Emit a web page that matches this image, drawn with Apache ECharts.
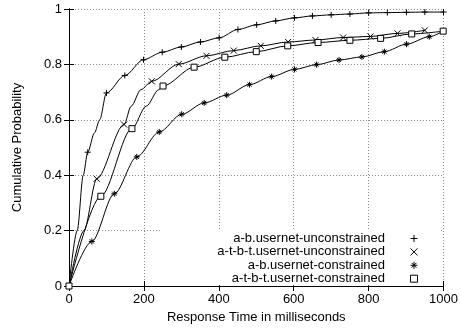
<!DOCTYPE html>
<html>
<head>
<meta charset="utf-8">
<script src="https://cdn.jsdelivr.net/npm/echarts@6/dist/echarts.min.js"></script>
<style>
  html, body { margin: 0; padding: 0; background: #fff; }
  #chart { width: 461px; height: 329px; }
</style>
</head>
<body>
<div id="chart"></div>
<script>
// series names, as in the key
var seriesNames = [
  'a-b.usernet-unconstrained',
  'a-t-b-t.usernet-unconstrained',
  'a-b.usernet-constrained',
  'a-t-b-t.usernet-constrained'
]

// marked points [ms, probability]
var abUnconMarks = [[0, 0], [50, 0.483], [100, 0.697], [149, 0.76], [199, 0.817], [249, 0.844], [300, 0.863],
  [351, 0.881], [401, 0.896], [451, 0.926], [501, 0.943], [552, 0.957], [602, 0.968], [650, 0.975],
  [700, 0.979], [750, 0.982], [800, 0.986], [850, 0.987], [901, 0.988], [950, 0.989], [1000, 0.989]]
var atbtUnconMarks = [[0, 0], [74, 0.387], [147, 0.583], [221, 0.739], [293, 0.801], [367, 0.831], [440, 0.85],
  [512, 0.867], [585, 0.881], [658, 0.888], [732, 0.897], [805, 0.901], [877, 0.912], [950, 0.923]]
var abConMarks = [[0, 0], [61, 0.161], [121, 0.333], [181, 0.466], [241, 0.556], [301, 0.62], [361, 0.661],
  [421, 0.689], [482, 0.727], [541, 0.756], [602, 0.782], [661, 0.799], [721, 0.816], [782, 0.827],
  [842, 0.846], [901, 0.873], [962, 0.9]]
var atbtConMarks = [[0, 0], [85, 0.324], [168, 0.568], [251, 0.722], [334, 0.79], [416, 0.826], [500, 0.846],
  [584, 0.867], [665, 0.879], [750, 0.887], [832, 0.894], [915, 0.91], [999, 0.92]]

// extra points of the curves between the marks
var abUnconKnots = [[22, 0.2], [38, 0.4], [68, 0.553], [82, 0.6]]
var atbtUnconKnots = [[40, 0.2], [166, 0.649], [192, 0.709]]
var abConKnots = [[1000, 0.921]]
var atbtConKnots = [[206, 0.649], [240, 0.709]]

var xTicks = [0, 200, 400, 600, 800, 1000]
var yTicks = [0, 0.2, 0.4, 0.6, 0.8, 1]

var symbols = [
  'path://M0,5L10,5M5,0L5,10',
  'path://M0,0L10,10M10,0L0,10',
  'path://M0,5L10,5M5,0L5,10M1.6,1.6L8.4,8.4M8.4,1.6L1.6,8.4',
  'path://M0,0L10,0L10,10L0,10Z'
]

function buildData(marks, knots) {
  var pts = marks.map(function (p) { return { value: p } })
    .concat(knots.map(function (p) { return { value: p, symbol: 'none' } }))
  pts.sort(function (a, b) { return a.value[0] - b.value[0] })
  return pts
}

var allData = [
  buildData(abUnconMarks, abUnconKnots),
  buildData(atbtUnconMarks, atbtUnconKnots),
  buildData(abConMarks, abConKnots),
  buildData(atbtConMarks, atbtConKnots)
]

var font = 'Liberation Sans, Arial, Helvetica, sans-serif'
var markStyle = { color: '#fff', borderColor: '#000', borderWidth: 1 }

var chart = echarts.init(document.getElementById('chart'))

var xBase = {
  type: 'value', min: 0, max: 1000, interval: 200,
  axisLine: { lineStyle: { color: '#000', width: 1 } },
  axisTick: { inside: true, length: 5, lineStyle: { color: '#000' } }
}
var yBase = {
  type: 'value', min: 0, max: 1, interval: 0.2,
  axisLine: { lineStyle: { color: '#000', width: 1 } },
  axisTick: { inside: true, length: 5, lineStyle: { color: '#000' } }
}

chart.setOption({
  animation: false,
  backgroundColor: '#fff',
  textStyle: { fontFamily: font },
  grid: { left: 69, right: 15, top: 9, bottom: 42 },
  legend: {
    orient: 'vertical',
    align: 'right',
    right: 21,
    top: 229,
    padding: [3, 22, 0, 56],
    backgroundColor: '#fff',
    itemWidth: 48,
    itemHeight: 7,
    itemGap: 0.4,
    selectedMode: false,
    textStyle: { fontFamily: font, fontSize: 13, lineHeight: 12, color: '#000' },
    itemStyle: markStyle,
    data: seriesNames.map(function (n, i) { return { name: n, icon: symbols[i] } })
  },
  xAxis: [
    Object.assign({}, xBase, {
      position: 'bottom',
      name: 'Response Time in milliseconds',
      nameLocation: 'middle',
      nameGap: 25,
      nameTextStyle: { fontFamily: font, fontSize: 13, color: '#000' },
      axisLabel: {
        margin: 7, color: '#000', fontSize: 13, fontFamily: font,
        formatter: function (v) { return xTicks.indexOf(v) >= 0 ? String(v) : '' }
      },
      splitLine: { show: true, lineStyle: { color: '#8c8c8c', type: [1, 2], width: 1 } }
    }),
    Object.assign({}, xBase, {
      position: 'top',
      axisLabel: { show: false },
      splitLine: { show: false }
    })
  ],
  yAxis: [
    Object.assign({}, yBase, {
      position: 'left',
      name: 'Cumulative Probability',
      nameLocation: 'middle',
      nameGap: 45,
      nameTextStyle: { fontFamily: font, fontSize: 13, color: '#000' },
      axisLabel: {
        margin: 7, color: '#000', fontSize: 13, fontFamily: font,
        formatter: function (v) {
          var r = Math.round(v * 10) / 10
          return yTicks.indexOf(r) >= 0 ? String(r) : ''
        }
      },
      splitLine: { show: true, lineStyle: { color: '#8c8c8c', type: [1, 2], width: 1 } }
    }),
    Object.assign({}, yBase, {
      position: 'right',
      axisLabel: { show: false },
      splitLine: { show: false }
    })
  ],
  series: seriesNames.map(function (n, i) {
    return {
      name: n,
      type: 'line',
      data: allData[i],
      smooth: 0.3,
      smoothMonotone: 'x',
      symbol: symbols[i],
      symbolSize: 6,
      showAllSymbol: true,
      lineStyle: { color: '#000', width: 1 },
      itemStyle: markStyle,
      emphasis: { disabled: true },
      z: 3 + i
    }
  })
})
</script>
</body>
</html>
